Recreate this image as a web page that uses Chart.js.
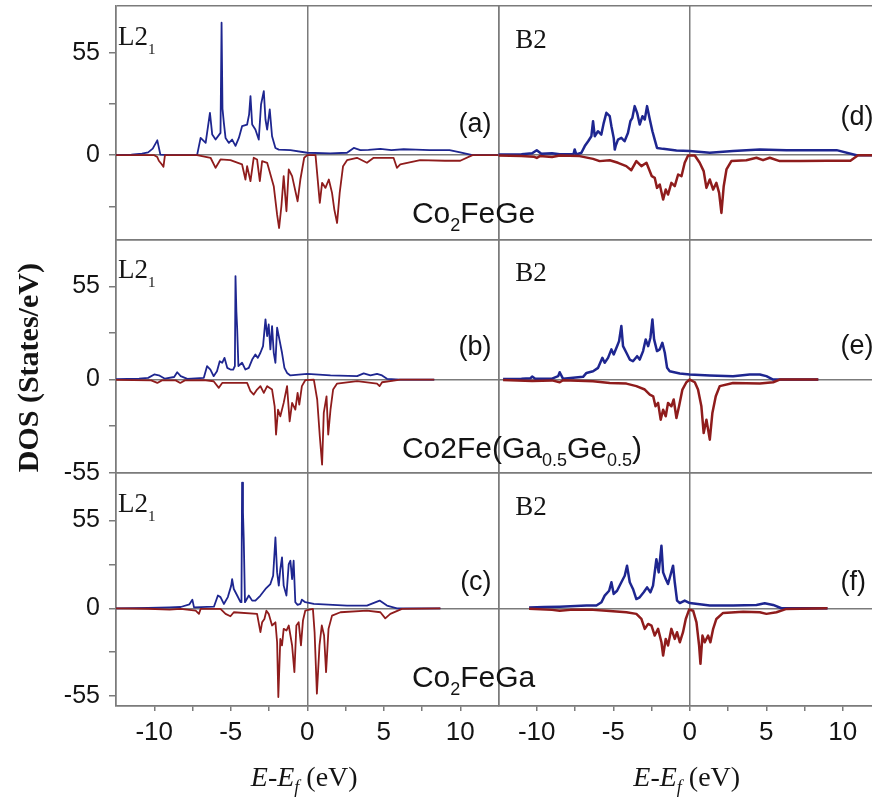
<!DOCTYPE html>
<html><head><meta charset="utf-8">
<script src="https://cdn.jsdelivr.net/npm/chart.js@4.4.1/dist/chart.umd.min.js"></script>
<style>html,body{margin:0;padding:0;overflow:hidden;background:#fff}canvas{display:block}</style>
</head><body>
<canvas id="c" width="882" height="803" style="width:882px;height:803px"></canvas>
<script>
// ---------- data (energy E-Ef in eV, DOS in states/eV) ----------
// (a) L2_1 Co2FeGe
const E_a_up = [-12.5,-11.5,-10.8,-10.4,-10.1,-9.8,-9.6,-9.0,-8.0,-7.2,-6.97,-6.64,-6.36,-6.21,-5.99,-5.67,-5.6,-5.54,-5.45,-5.34,-5.12,-4.91,-4.69,-4.47,-4.26,-3.93,-3.8,-3.71,-3.6,-3.39,-3.17,-3.02,-2.84,-2.73,-2.62,-2.45,-2.30,-2.08,-1.86,-1.1,0,1.5,2.6,3.04,3.47,4.0,4.78,5.5,6.3,7.1,8.0,9.3,10.0,10.8,11.5,12.5];
const DOS_a_up = [0,0.3,0.8,1.5,3.5,8,0.3,0,0,0,9.3,6.6,22.8,11.1,8.4,12,71.3,25,17.4,9.3,6.6,8.4,5.0,9.3,15.6,16.5,22,31.8,16.5,13.8,8.4,27.3,34.5,19.2,13.8,24.6,10.2,3.9,3.0,2.7,1.3,1.0,1.3,3.9,2.7,2.9,3.4,2.7,3.2,3.0,2.7,2.7,1.5,0,0,0];
const E_a_dn = [-12.5,-10.0,-9.8,-9.7,-9.5,-9.4,-9.3,-8.5,-7.2,-6.32,-5.99,-5.67,-5.02,-4.26,-4.04,-3.93,-3.71,-3.5,-3.28,-3.1,-2.95,-2.62,-2.19,-1.97,-1.84,-1.69,-1.54,-1.36,-1.21,-0.99,-0.63,-0.45,-0.2,0,0.54,0.82,0.97,1.19,1.41,1.62,1.77,1.95,2.12,2.34,2.6,3.25,3.9,4.34,5.64,5.86,6.08,7.38,9.0,10.0,10.8,12.5];
const DOS_a_dn = [0,0,-1,-3,-5,-6.3,0,0,0,-1.4,-6.8,-2.3,-2.7,-5,-13.1,-5.9,-14,-1.4,-2.3,-14,-3.2,-4.1,-16.7,-32,-39.2,-27.5,-11.3,-30.2,-7.7,-11.3,-24.8,-13.1,-1.4,0,0,-25.7,-14.9,-17.6,-13.1,-20.3,-29.3,-36.5,-20.3,-5.9,-2.7,-1.4,-4.1,-1.4,-1.4,-6.8,-5,-2.7,-3,-3,0,0];
// (b) L2_1 Co2Fe(Ga0.5Ge0.5)
const E_b_up = [-12.5,-11.0,-10.4,-10.0,-9.7,-9.3,-8.7,-8.5,-8.27,-7.84,-6.76,-6.55,-6.33,-6.12,-5.9,-5.72,-5.56,-5.41,-5.23,-5.02,-4.84,-4.73,-4.69,-4.63,-4.58,-4.5,-4.26,-4.04,-3.82,-3.6,-3.39,-3.23,-3.06,-2.89,-2.73,-2.62,-2.52,-2.41,-2.3,-2.19,-2.08,-1.97,-1.82,-1.65,-1.49,-1.32,-1.1,0,1.52,3.26,3.69,4.13,4.56,4.89,5.21,6.08,8.3];
const DOS_b_up = [0.3,0.5,1.0,3.0,2.5,0.5,1.5,4.3,2.0,0.4,1.0,7.9,5.9,2.0,4.9,10.8,9.9,12.8,6.9,5.9,5.9,8,61.1,40,30,8,9.9,5.9,6.9,11.8,14.8,12.8,15.8,19.7,35.5,25.6,32.5,17.8,31.6,15.8,9.9,30.6,23.7,15.8,6.9,3.9,2.4,3.4,2.4,2.0,3.6,2.4,3.4,2.4,0.4,0,0];
const E_b_dn = [-12.5,-10.2,-9.8,-9.5,-8.6,-8.3,-8.0,-6.76,-6.12,-5.78,-5.56,-3.93,-3.71,-3.5,-3.28,-3.06,-2.84,-2.62,-2.3,-2.13,-2.04,-1.91,-1.76,-1.54,-1.32,-1.15,-0.99,-0.78,-0.63,-0.52,-0.35,-0.13,0.43,0.65,0.82,0.97,1.08,1.26,1.37,1.52,1.69,1.95,3.26,4.56,4.73,4.89,6.08,8.3];
const DOS_b_dn = [-0.2,-0.5,-2,-0.5,-0.5,-2,-0.5,-0.4,-1,-4.9,-2,-2,-6.9,-8.9,-5.9,-3.9,-7.9,-3.9,-5.9,-15.8,-32.5,-17.8,-21.7,-13.8,-3.9,-24.7,-13.8,-17.8,-7.9,-14.8,-3.9,-0.4,0,-11.8,-33.5,-50.3,-19.7,-9.9,-32.5,-17.8,-5.9,-2.4,-1,-2.4,-3.9,-1.6,0,0];
// (c) L2_1 Co2FeGa
const E_c_up = [-12.5,-10.4,-9.0,-8.27,-7.7,-7.51,-7.4,-6.1,-5.84,-5.67,-5.45,-5.19,-4.97,-4.91,-4.8,-4.58,-4.36,-4.3,-4.26,-4.2,-4.15,-4.07,-3.82,-3.6,-3.39,-3.06,-2.73,-2.41,-2.23,-2.08,-1.97,-1.86,-1.76,-1.65,-1.54,-1.36,-1.21,-1.1,-0.99,-0.89,-0.78,-0.63,-0.45,-0.35,-0.13,0.43,2.6,3.9,4.73,5.21,5.86,8.7];
const DOS_c_up = [0,0.3,0.6,0.8,2.5,5.4,0.6,1,8,7,2.7,7,14.2,18.3,12.1,8,3.8,3.8,78.8,60,43.3,3.8,8,4.8,4.8,8,12.1,15.2,20.4,44.4,22.5,14.2,24.6,31.9,14.2,8,27.7,29.8,18.3,29.8,3.8,2.1,2.7,5.4,3.8,2.7,1.7,1.7,4.8,1.7,0,0];
const E_c_dn = [-12.5,-10.4,-9.0,-8.27,-7.29,-7.08,-6.97,-5.67,-5.34,-5.02,-4.8,-3.28,-3.06,-2.95,-2.8,-2.67,-2.52,-2.3,-2.08,-1.97,-1.89,-1.76,-1.65,-1.54,-1.36,-1.21,-0.99,-0.84,-0.71,-0.56,-0.41,-0.28,-0.13,0.37,0.48,0.63,0.8,0.95,1.1,1.23,1.39,1.62,2.17,3.9,4.78,5.1,5.43,6.19,8.7];
const DOS_c_dn = [0,-0.3,-0.8,-0.4,-1.5,-3.5,-0.4,-0.4,-3.5,-5,-2.5,-3.5,-15,-8.8,-6.7,-1.5,-3.5,-10.8,-8.8,-21.3,-55.6,-19.2,-23.3,-12.9,-14,-10.8,-23.3,-40,-10.8,-8.8,-23.3,-7.7,-1.5,-0.4,-15,-53.5,-23.3,-10.8,-17.1,-40,-12.9,-4.6,-2.5,-1.5,-2.5,-6.3,-3.5,-0.4,0];
// (d) B2 Co2FeGe
const E_d_up = [-12.5,-11.0,-10.3,-10.0,-9.7,-9.0,-8.5,-7.6,-7.52,-7.42,-7.08,-6.86,-6.64,-6.43,-6.32,-6.21,-6.0,-5.78,-5.62,-5.45,-5.23,-5.12,-4.97,-4.9,-4.84,-4.69,-4.47,-4.26,-4.04,-3.88,-3.75,-3.6,-3.44,-3.27,-3.09,-2.94,-2.79,-2.61,-2.44,-2.29,-2.14,-1.74,-0.87,0,1.31,2.83,4.58,6.32,8.0,9.6,10.9,12.5];
const DOS_d_up = [0.3,0.5,1,2.7,0.8,1,0.5,0.5,3.1,0.4,1.3,4.9,7.5,10.2,18.3,10.2,12.9,11.1,17.4,22.8,21,15.6,9.3,3,5,8.4,9.3,7.5,11.9,18.3,20.1,26.4,22.8,16.5,21,19.2,26.4,19.2,12.9,8.4,3.9,3.4,2.5,2.2,1.3,2.2,3.1,2.7,2.7,2.7,0,0];
const E_d_dn = [-12.5,-11.0,-10.2,-10.0,-9.8,-9.0,-8.5,-7.2,-6.32,-5.89,-5.23,-4.69,-4.15,-3.82,-3.49,-3.16,-2.83,-2.48,-2.29,-2.14,-1.96,-1.74,-1.57,-1.42,-1.2,-0.98,-0.76,-0.54,-0.33,-0.11,0.33,0.65,0.91,1.09,1.31,1.53,1.74,1.92,2.07,2.22,2.4,2.72,3.7,4.36,4.79,5.23,5.88,7.19,9.0,10.5,11.0,12.5];
const DOS_d_dn = [-0.2,-0.5,-0.8,-1.5,-0.5,-1,-0.2,-0.5,-2,-3.2,-2.7,-4.1,-5.9,-8.1,-3.2,-5.9,-4.1,-11.3,-12.2,-17.6,-15.8,-23.9,-18.5,-21.2,-14.9,-16.7,-10.4,-11.3,-4.1,-0.2,-0.2,-4.1,-8.6,-17.6,-13.1,-18.5,-14.9,-20.3,-31.1,-16.7,-7.7,-3.2,-2.7,-1.4,-2.7,-1.4,-3.2,-3.2,-3.0,-3.0,0,0];
// (e) B2 Co2Fe(Ga0.5Ge0.5)
const E_e_up = [-12.2,-11.0,-10.4,-10.3,-10.1,-9.0,-8.6,-8.5,-8.28,-6.97,-6.75,-6.32,-5.99,-5.71,-5.56,-5.34,-5.12,-4.97,-4.75,-4.62,-4.47,-4.36,-4.14,-3.92,-3.71,-3.44,-3.27,-3.05,-2.88,-2.72,-2.57,-2.44,-2.33,-2.14,-1.96,-1.79,-1.63,-1.48,-1.31,-0.65,0,1.31,2.83,3.92,4.58,5.01,5.45,8.4];
const DOS_e_up = [0.3,0.5,0.8,1.8,0.5,0.5,2,4.3,0.4,1.6,3.9,4.9,6.9,12.8,9.9,12.8,17.8,14.8,19.7,22.7,31.6,19.7,15.8,11.8,10.8,13.8,11.8,16.8,23.7,19.7,24.7,35.5,23.7,16.8,17.8,21.7,15.8,6.9,4.9,3.6,3,2.4,2,3,3,2,0,0];
const E_e_dn = [-12.2,-10.3,-9.0,-8.5,-8.28,-6.32,-5.23,-4.14,-3.49,-2.94,-2.61,-2.39,-2.24,-2.07,-1.9,-1.74,-1.57,-1.42,-1.2,-1.05,-0.87,-0.7,-0.48,-0.22,0,0.33,0.54,0.76,0.91,1.09,1.31,1.48,1.7,1.96,2.83,4.58,5.45,5.88,8.4];
const DOS_e_dn = [-0.3,-0.8,-0.5,-1.6,-0.4,-1,-2,-2.4,-3.9,-5.9,-8.9,-9.9,-15.8,-13.8,-23.7,-17.8,-21.7,-13.8,-15.8,-11.8,-22.7,-15.8,-5.9,-1.6,0,-1.6,-5.9,-15.8,-31.6,-23.7,-35.5,-19.7,-9.9,-3.9,-2,-2.4,-1.6,0,0];
// (f) B2 Co2FeGa
const E_f_up = [-10.5,-9.5,-8.5,-6.75,-6.1,-5.77,-5.56,-5.27,-5.12,-4.97,-4.75,-4.47,-4.25,-4.1,-3.92,-3.71,-3.49,-3.27,-3.01,-2.79,-2.57,-2.4,-2.18,-2.03,-1.85,-1.74,-1.57,-1.42,-1.27,-1.09,-0.98,-0.83,-0.65,-0.33,0,1.31,2.83,4.36,4.9,5.45,5.99,9.0];
const DOS_f_up = [0.5,0.8,1,1.7,1.7,3.8,7.9,11,16.3,9,11,16.3,20.4,26.7,16.3,12.1,5.8,6.9,10,13.1,10,14.2,30.8,22.5,39.2,22.5,18.3,15.2,20.4,26.7,16.3,4.8,3.3,4.8,3.3,1.7,1.7,2.1,3.1,2.1,0,0];
const E_f_dn = [-10.5,-9.0,-8.5,-7.8,-6.32,-5.45,-4.14,-3.49,-3.16,-2.94,-2.72,-2.5,-2.29,-2.07,-1.85,-1.74,-1.57,-1.42,-1.2,-0.98,-0.83,-0.65,-0.44,-0.26,-0.04,0.22,0.44,0.61,0.7,0.83,0.98,1.2,1.35,1.53,1.74,2.18,3.49,4.58,5.01,5.67,6.32,9.0];
const DOS_f_dn = [-0.3,-1,-1.5,-1,-1,-1.5,-2.5,-3.5,-6.7,-12.9,-9.8,-10.8,-17.1,-12.9,-21.3,-29.6,-19.2,-23.3,-12.9,-19.2,-15,-21.3,-15,-6.7,-0.8,-1.5,-8.8,-23.3,-34.8,-17.1,-21.3,-17.1,-21.3,-12.9,-6.7,-2.9,-2.1,-2.5,-3.5,-2.5,-0.4,0];

// axes
const X_TICKS = [-12.5,-10,-7.5,-5,-2.5,0,2.5,5,7.5,10,12.5];
const X_LABELED = [-10,-5,0,5,10];
const ROW_RANGES = [[-45.3,80.3],[-55,82.8],[-61.25,85]];
const Y_TICKS = [[-27.5,0,27.5,55],[-55,-27.5,0,27.5,55],[-55,-27.5,0,27.5,55]];
const Y_LABELED = [[0,55],[-55,0,55],[-55,0,55]];
// texts
const PANEL_TAGS = ['(a)','(b)','(c)','(d)','(e)','(f)'];
const TAG_LEVEL = [16.7,18.9,16.25,20.5,19.5,16.25];
const PHASES = ['L2','B2'];

// ---------- style ----------
const GRID = '#7b7b7b', BLUE = '#1e2690', RED = '#8f1c1c', TXT = '#141414';
const SANS = '"Liberation Sans", Arial, sans-serif';
const SERIF = '"Liberation Serif", "Times New Roman", serif';

function pts(E, V){ const n = Math.min(E.length, V.length); const o=[]; for(let i=0;i<n;i++) o.push({x:E[i], y:V[i]}); return o; }

const panels = [
  {x:'x1', y:'y1', up:pts(E_a_up,DOS_a_up), dn:pts(E_a_dn,DOS_a_dn), w:1.8},
  {x:'x1', y:'y2', up:pts(E_b_up,DOS_b_up), dn:pts(E_b_dn,DOS_b_dn), w:1.8},
  {x:'x1', y:'y3', up:pts(E_c_up,DOS_c_up), dn:pts(E_c_dn,DOS_c_dn), w:1.8},
  {x:'x2', y:'y1', up:pts(E_d_up,DOS_d_up), dn:pts(E_d_dn,DOS_d_dn), w:2.5},
  {x:'x2', y:'y2', up:pts(E_e_up,DOS_e_up), dn:pts(E_e_dn,DOS_e_dn), w:2.5},
  {x:'x2', y:'y3', up:pts(E_f_up,DOS_f_up), dn:pts(E_f_dn,DOS_f_dn), w:2.5},
];
const datasets = [];
panels.forEach((p,i)=>{
  datasets.push({label:'down'+i, data:p.dn, xAxisID:p.x, yAxisID:p.y, borderColor:RED, borderWidth:p.w, pointRadius:0, tension:0, fill:false, order:1, borderJoinStyle:'round'});
  datasets.push({label:'up'+i, data:p.up, xAxisID:p.x, yAxisID:p.y, borderColor:BLUE, borderWidth:p.w, pointRadius:0, tension:0, fill:false, order:2, borderJoinStyle:'round'});
});

function noPad(s){ s.paddingTop=0; s.paddingBottom=0; s.paddingLeft=0; s.paddingRight=0; }

function xScale(weight){
  return {
    type:'linear', position:'bottom', stack:'cols', stackWeight:1, weight:weight,
    min:-12.5, max:12.5,
    afterBuildTicks:(s)=>{ s.ticks = X_TICKS.map(v=>({value:v})); },
    afterFit:(s)=>{ s.height = 97; noPad(s); },
    border:{display:true, color:GRID, width:1.5},
    grid:{drawOnChartArea:true, drawTicks:true, tickLength:5, lineWidth:1.5,
      color:(c)=> (c.tick && (c.tick.value===0 || Math.abs(c.tick.value)===12.5)) ? GRID : 'rgba(0,0,0,0)',
      tickColor:(c)=> (c.tick && Math.abs(c.tick.value)===12.5) ? 'rgba(0,0,0,0)' : GRID},
    ticks:{autoSkip:false, maxRotation:0, padding:6, color:TXT, font:{family:SANS, size:26},
      callback:(v)=> X_LABELED.includes(v) ? String(v) : ''}
  };
}
function yScale(r, weight){
  const [mn,mx] = ROW_RANGES[r];
  return {
    type:'linear', position:'left', stack:'rows', stackWeight:1, weight:weight,
    min:mn, max:mx,
    afterBuildTicks:(s)=>{ s.ticks = [mn, ...Y_TICKS[r].filter(v=>v>mn && v<mx), mx].map(v=>({value:v})); },
    afterFit:(s)=>{ s.width = 116; noPad(s); },
    border:{display:true, color:GRID, width:1.5},
    grid:{drawOnChartArea:true, drawTicks:true, tickLength:7, lineWidth:1.5,
      color:(c)=> (c.tick && (c.tick.value===0 || c.tick.value===mn || c.tick.value===mx)) ? GRID : 'rgba(0,0,0,0)',
      tickColor:(c)=> (c.tick && Y_TICKS[r].includes(c.tick.value)) ? GRID : 'rgba(0,0,0,0)'},
    ticks:{autoSkip:false, padding:9, color:TXT, font:{family:SANS, size:25},
      callback:(v)=> Y_LABELED[r].includes(v) ? String(v) : ''}
  };
}

function rich(ctx, x, y, parts, align){
  let w = 0;
  parts.forEach(p=>{ ctx.font = p.f; p.w = ctx.measureText(p.t).width; w += p.w; });
  let cx = align==='right' ? x - w : (align==='center' ? x - w/2 : x);
  parts.forEach(p=>{ ctx.font = p.f; ctx.fillText(p.t, cx, y + (p.dy||0)); cx += p.w; });
}

const annot = {
  id:'annot',
  afterDraw(chart){
    const ctx = chart.ctx, s = chart.scales;
    const ys = [s.y1, s.y2, s.y3], xs = [s.x1, s.x2];
    ctx.save();
    ctx.fillStyle = TXT;
    ctx.textBaseline = 'alphabetic';
    const big = '30px '+SANS, sub = '18px '+SANS;
    for (let r=0;r<3;r++){
      const y = ys[r];
      rich(ctx, xs[0].left+2, y.top+39, [{t:PHASES[0], f:'27px '+SERIF},{t:'1', f:'15px '+SERIF, dy:9}], 'left');
      rich(ctx, xs[1].getPixelForValue(-11.4), y.top+42, [{t:PHASES[1], f:'27px '+SERIF}], 'left');
    }
    // compound names
    rich(ctx, xs[0].getPixelForValue(6.84), ys[0].getPixelForValue(-36.7),
      [{t:'Co',f:big},{t:'2',f:sub,dy:8},{t:'FeGe',f:big}], 'left');
    rich(ctx, xs[0].getPixelForValue(6.19), ys[1].getPixelForValue(-46.2),
      [{t:'Co2Fe(Ga',f:big},{t:'0.5',f:sub,dy:8},{t:'Ge',f:big},{t:'0.5',f:sub,dy:8},{t:')',f:big}], 'left');
    rich(ctx, xs[0].getPixelForValue(6.84), ys[2].getPixelForValue(-49.4),
      [{t:'Co',f:big},{t:'2',f:sub,dy:8},{t:'FeGa',f:big}], 'left');
    // panel tags
    ctx.textBaseline = 'middle';
    ctx.font = '27px '+SANS;
    for (let k=0;k<6;k++){
      const col = k<3 ? 0 : 1, r = k%3;
      const yy = ys[r].getPixelForValue(TAG_LEVEL[k]);
      if (col===0){ ctx.textAlign='right'; ctx.fillText(PANEL_TAGS[k], xs[0].getPixelForValue(12.05), yy); }
      else { ctx.textAlign='left'; ctx.fillText(PANEL_TAGS[k], xs[1].getPixelForValue(9.85), yy); }
    }
    ctx.textAlign='left';
    ctx.textBaseline = 'alphabetic';
    // x titles
    const it = 'italic 28px '+SERIF, itS = 'italic 18px '+SERIF, rg = '28px '+SERIF;
    xs.forEach(xsc=>{
      rich(ctx, xsc.getPixelForValue(0)-3, chart.chartArea.bottom+80,
        [{t:'E-E',f:it},{t:'f',f:itS,dy:7},{t:' (eV)',f:rg}], 'center');
    });
    // y title
    ctx.save();
    ctx.translate(30, ys[1].getPixelForValue(7));
    ctx.rotate(-Math.PI/2);
    ctx.textAlign='center'; ctx.textBaseline='middle';
    ctx.font = 'bold 30px '+SERIF;
    ctx.fillText('DOS (States/eV)', 0, 0);
    ctx.restore();
    ctx.restore();
  }
};

new Chart(document.getElementById('c'), {
  type:'line',
  data:{datasets},
  options:{
    responsive:false, animation:false, devicePixelRatio:1,
    layout:{padding:{left:0, top:6, right:1, bottom:0}},
    plugins:{legend:{display:false}, tooltip:{enabled:false}},
    scales:{
      x1:xScale(1), x2:xScale(2),
      y1:yScale(0,3), y2:yScale(1,2), y3:yScale(2,1)
    }
  },
  plugins:[annot]
});
</script>
</body></html>
